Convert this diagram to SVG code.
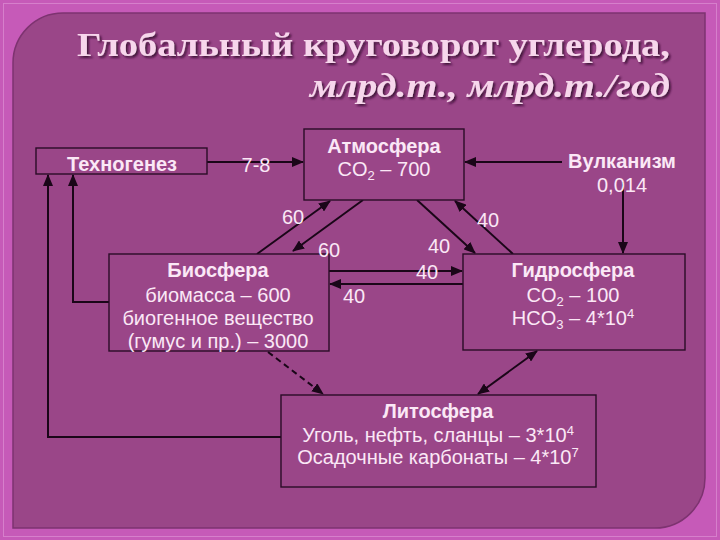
<svg xmlns="http://www.w3.org/2000/svg" width="720" height="540" viewBox="0 0 720 540">
<style>
.box{fill:#9a4688;stroke:#2a0c27;stroke-width:1.4}
.hd{font-family:"Liberation Sans",Arial,sans-serif;font-size:20px;font-weight:bold;fill:#fbe8f6;text-anchor:middle}
.tx{font-family:"Liberation Sans",Arial,sans-serif;font-size:20px;fill:#fbe8f6;text-anchor:middle}
.num{font-family:"Liberation Sans",Arial,sans-serif;font-size:20px;fill:#fbe8f6;text-anchor:middle}
.ln{fill:none;stroke:#1a0618;stroke-width:2}
.title{font-family:"Liberation Serif","Times New Roman",serif;font-size:34px;font-weight:bold;fill:#f7d6ec;text-anchor:end}
</style>
<defs>
<marker id="ah" markerUnits="userSpaceOnUse" markerWidth="12" markerHeight="10" refX="11" refY="5" orient="auto-start-reverse">
<path d="M0,0 L12,5 L0,10 Z" fill="#1a0618"/>
</marker>
<filter id="sh" x="-5%" y="-20%" width="110%" height="150%">
<feDropShadow dx="2" dy="2" stdDeviation="1" flood-color="#3a0c34" flood-opacity="0.9"/>
</filter>
</defs>
<!-- background -->
<rect x="0" y="0" width="720" height="540" fill="#c65ab8"/>
<rect x="3.5" y="3.5" width="713" height="533" fill="none" stroke="#d67fcb" stroke-width="1"/>
<path d="M13,63 A50,50 0 0 1 63,13 L705,13 L705,478 A50,50 0 0 1 655,528 L13,528 Z" fill="#9a4688" stroke="#7d3370" stroke-width="1.5"/>

<!-- title -->
<g id="title" filter="url(#sh)">
<text class="title" x="670" y="56" textLength="593" lengthAdjust="spacingAndGlyphs">Глобальный круговорот углерода,</text>
<text class="title" x="670" y="97" font-size="36" font-style="italic" textLength="360" lengthAdjust="spacingAndGlyphs">млрд.т., млрд.т./год</text>
</g>

<!-- connectors -->
<g id="connectors">
<line class="ln" x1="207" y1="162" x2="303" y2="162" marker-end="url(#ah)"/>
<line class="ln" x1="562" y1="162" x2="465" y2="162" marker-end="url(#ah)"/>
<line class="ln" x1="623" y1="182" x2="623" y2="253" marker-end="url(#ah)"/>
<line class="ln" x1="257" y1="254" x2="330" y2="201" marker-end="url(#ah)"/>
<line class="ln" x1="363" y1="200" x2="293" y2="251" marker-end="url(#ah)"/>
<line class="ln" x1="417" y1="200" x2="475" y2="253" marker-end="url(#ah)"/>
<line class="ln" x1="513" y1="254" x2="455" y2="201" marker-end="url(#ah)"/>
<line class="ln" x1="329" y1="271" x2="462" y2="271" marker-end="url(#ah)"/>
<line class="ln" x1="463" y1="284" x2="330" y2="284" marker-end="url(#ah)"/>
<line class="ln" x1="268" y1="352" x2="323" y2="394" stroke-dasharray="6,4" marker-end="url(#ah)"/>
<line class="ln" x1="478" y1="394" x2="537" y2="351" marker-start="url(#ah)" marker-end="url(#ah)"/>
<polyline class="ln" points="109,302 73,302 73,175" marker-end="url(#ah)"/>
<polyline class="ln" points="281,437 48,437 48,175" marker-end="url(#ah)"/>
</g>

<!-- nodes -->
<g id="technogenez">
<rect class="box" x="36" y="148" width="171" height="26"/>
<text class="hd" x="122" y="171">Техногенез</text>
</g>
<g id="atmosfera">
<rect class="box" x="304" y="129" width="160" height="71"/>
<text class="hd" x="384" y="153">Атмосфера</text>
<text class="tx" x="384" y="176">CO<tspan font-size="13" dy="4">2</tspan><tspan dy="-4"> – 700</tspan></text>
</g>
<g id="vulkanizm">
<text class="hd" x="622" y="168">Вулканизм</text>
<text class="tx" x="622" y="192">0,014</text>
</g>
<g id="biosfera">
<rect class="box" x="109" y="254" width="220" height="97"/>
<text class="hd" x="218" y="277">Биосфера</text>
<text class="tx" x="218" y="302">биомасса – 600</text>
<text class="tx" x="218" y="325">биогенное вещество</text>
<text class="tx" x="218" y="348">(гумус и пр.) – 3000</text>
</g>
<g id="gidrosfera">
<rect class="box" x="463" y="254" width="222" height="96"/>
<text class="hd" x="573" y="277">Гидросфера</text>
<text class="tx" x="573" y="302">CO<tspan font-size="13" dy="4">2</tspan><tspan dy="-4"> – 100</tspan></text>
<text class="tx" x="573" y="325">HCO<tspan font-size="13" dy="4">3</tspan><tspan dy="-4"> – 4*10</tspan><tspan font-size="13" dy="-7">4</tspan></text>
</g>
<g id="litosfera">
<rect class="box" x="281" y="395" width="315" height="92"/>
<text class="hd" x="438" y="418">Литосфера</text>
<text class="tx" x="438" y="442">Уголь, нефть, сланцы – 3*10<tspan font-size="13" dy="-7">4</tspan></text>
<text class="tx" x="438" y="464">Осадочные карбонаты – 4*10<tspan font-size="13" dy="-7">7</tspan></text>
</g>

<!-- labels -->
<g id="labels">
<text class="num" x="256" y="172" font-size="22">7-8</text>
<text class="num" x="293" y="224" font-size="21">60</text>
<text class="num" x="329" y="257" font-size="21">60</text>
<text class="num" x="488" y="227">40</text>
<text class="num" x="439" y="253">40</text>
<text class="num" x="427" y="279">40</text>
<text class="num" x="354" y="303">40</text>
</g>
</svg>
